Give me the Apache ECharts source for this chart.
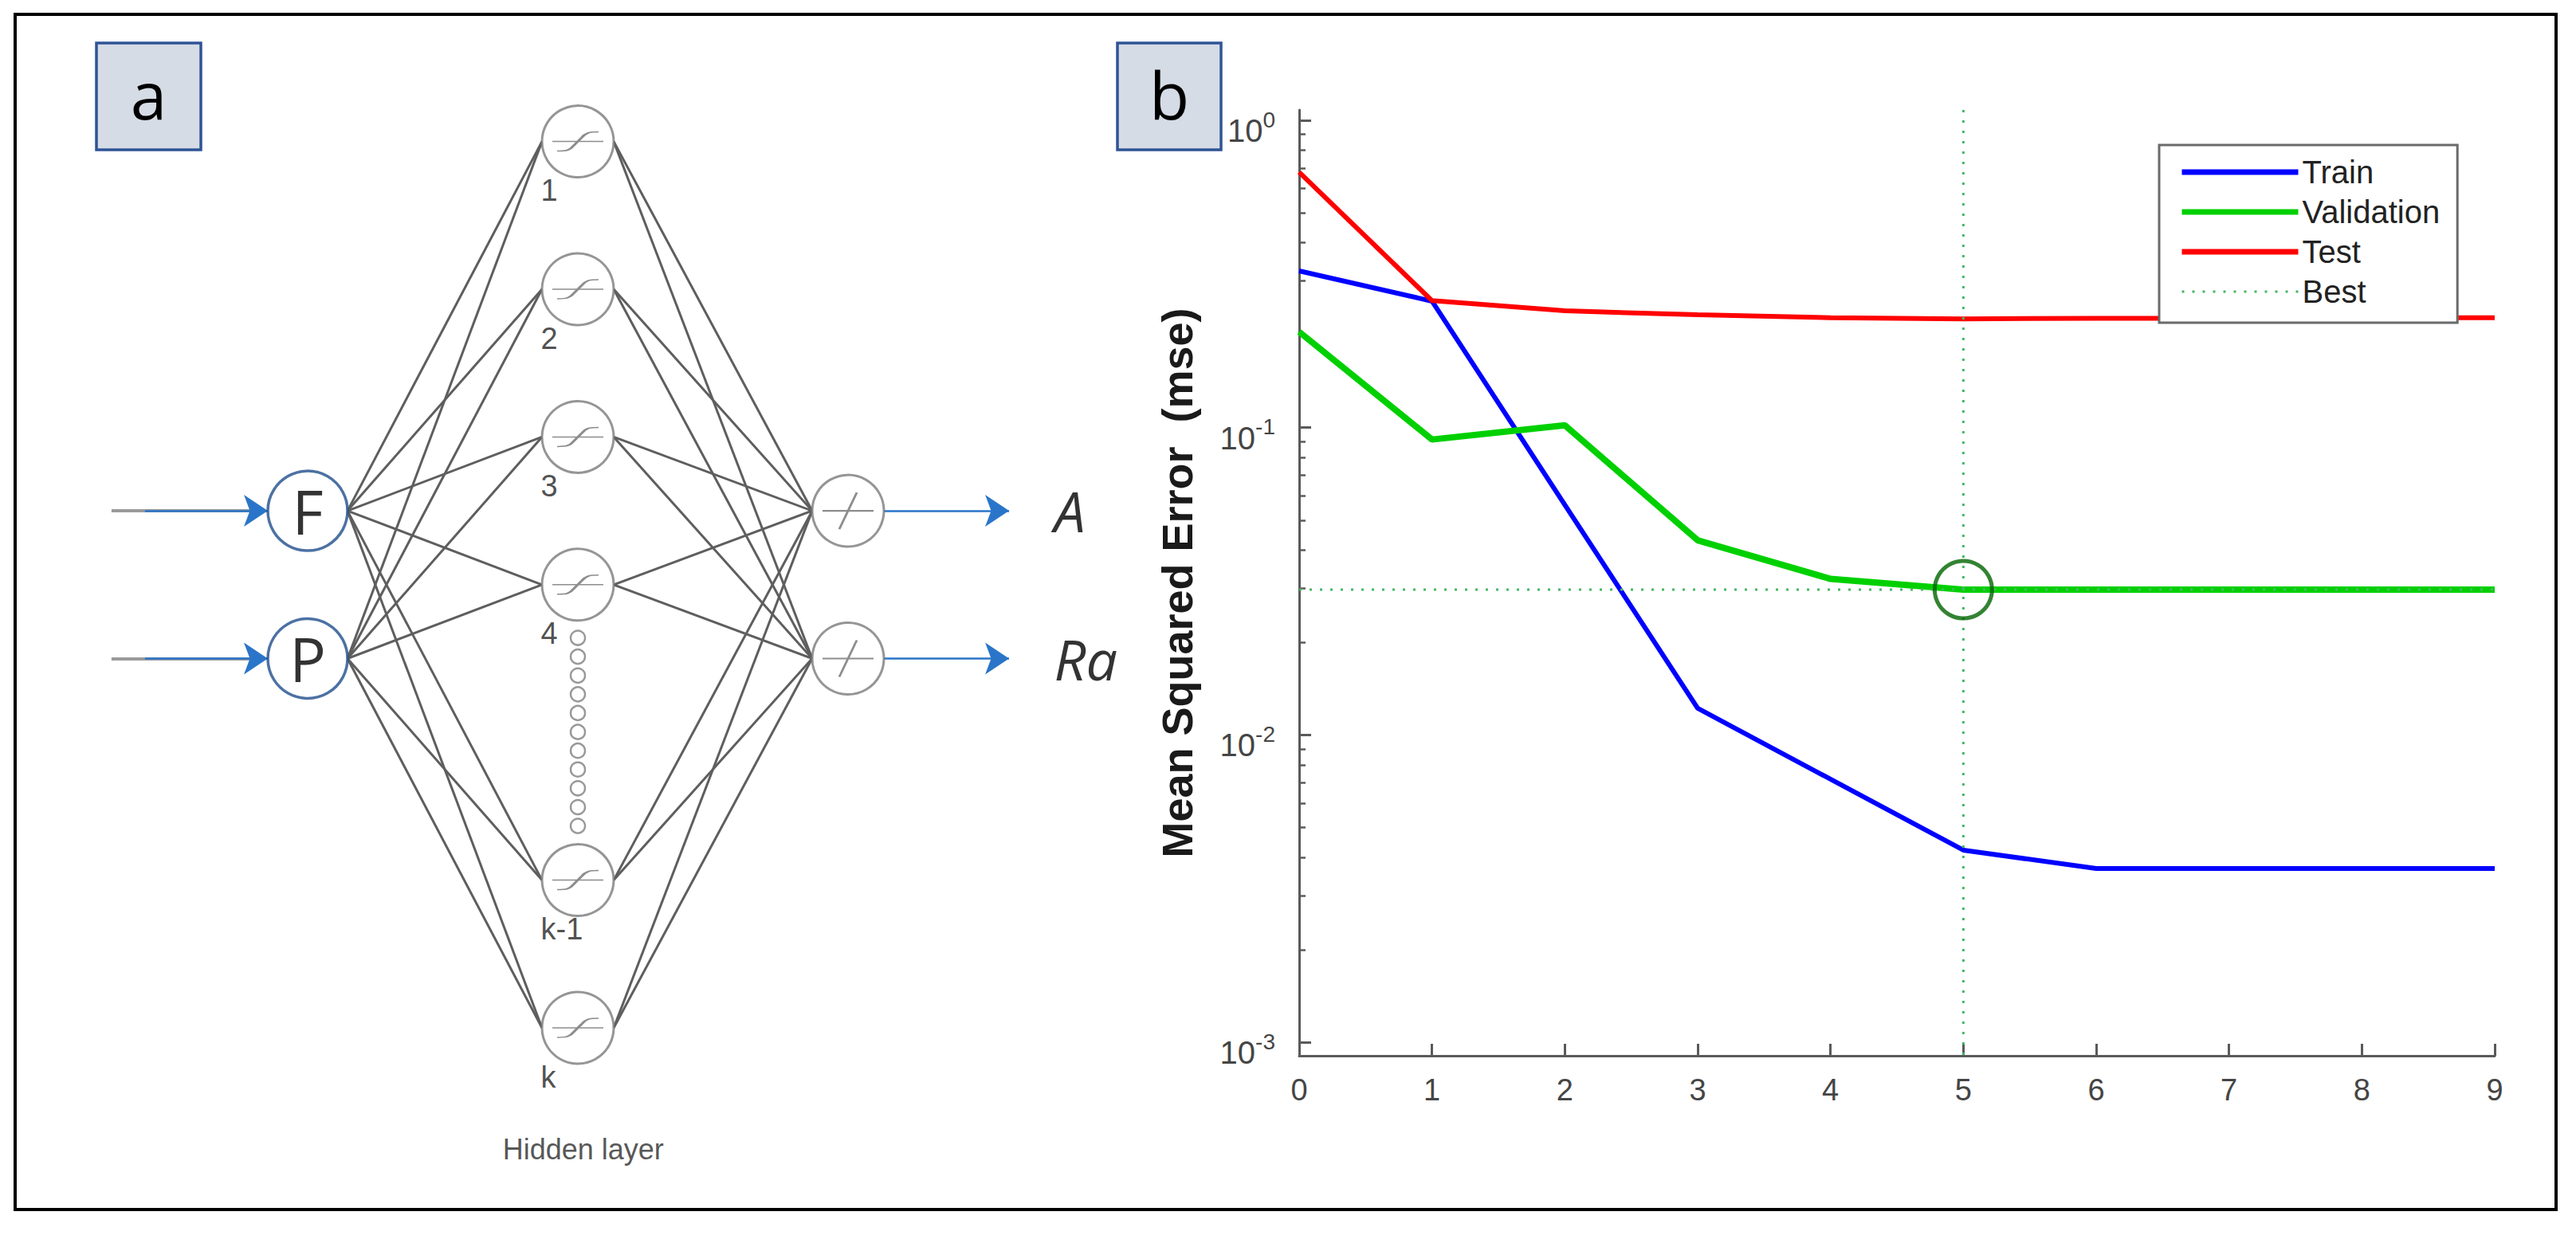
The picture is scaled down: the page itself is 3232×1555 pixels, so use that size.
<!DOCTYPE html>
<html><head><meta charset="utf-8">
<script src="https://cdn.jsdelivr.net/npm/echarts@6/dist/echarts.min.js"></script>
<style>html,body{margin:0;padding:0;background:#fff}#c{width:3232px;height:1555px}</style>
</head><body><div id="c"></div>
<script>
// ---------- panel b data ----------
const epochs = [0, 1, 2, 3, 4, 5, 6, 7, 8, 9];
const trainMse = [0.3236, 0.258, 0.0561, 0.01221, 0.00718, 0.00422, 0.003675, 0.003675, 0.003675, 0.003675];
const validationMse = [0.205, 0.0915, 0.1018, 0.043, 0.0322, 0.0297, 0.0297, 0.0297, 0.0297, 0.0297];
const testMse = [0.678, 0.259, 0.240, 0.233, 0.228, 0.226, 0.227, 0.227, 0.228, 0.228];
const bestEpoch = 5;
const bestMse = 0.0297;
const yMajorTicks = [0.001, 0.01, 0.1, 1];
const yMinorTicks = [0.002,0.003,0.004,0.005,0.006,0.007,0.008,0.009,
                     0.02,0.03,0.04,0.05,0.06,0.07,0.08,0.09,
                     0.2,0.3,0.4,0.5,0.6,0.7,0.8,0.9];
const yRange = [0.000904, 1.081];
const legendNames = ['Train', 'Validation', 'Test', 'Best'];
const yTitle = 'Mean Squared Error  (mse)';

// ---------- panel a data (layer index, row index) ----------
const inputNames = ['F', 'P'];
const inputRows = [2.5, 3.5];
const hiddenLabels = ['1', '2', '3', '4', 'k-1', 'k'];
const hiddenRows = [0, 1, 2, 3, 5, 6];
const outputNames = ['A', 'Ra'];
const outputRows = [2.5, 3.5];
const ellipsisRows = [3.36, 3.487, 3.615, 3.742, 3.869, 3.997, 4.124, 4.251, 4.378, 4.506, 4.633];
const layerTitle = 'Hidden layer';

// ---------- styling / layout ----------
const FONT = 'Liberation Sans, Arial, sans-serif';
const FONT2 = 'Open Sans, Noto Sans, sans-serif';
const AX = '#5a5a5a';
const LBL = '#454545';
const DX = 339;      // px per layer unit in diagram
const rIn = 50, rHid = 45, rOut = 45;

const edges = [];
inputRows.forEach(ri => hiddenRows.forEach(rh => edges.push({coords: [[rIn / DX, ri], [1 - rHid / DX, rh]]})));
hiddenRows.forEach(rh => outputRows.forEach(ro => edges.push({coords: [[1 + rHid / DX, rh], [2 - rOut / DX, ro]]})));
const inGray = inputRows.map(r => ({coords: [[-0.726, r], [-0.2, r]]}));
const inBlue = inputRows.map(r => ({coords: [[-0.602, r], [-rIn / DX, r]]}));
const outBlue = outputRows.map(r => ({coords: [[2 + rOut / DX, r], [2.596, r]]}));

const tansig = 'path://M0,13 L64,13 M6,25 C18,25 22,24 27,18 L37,8 C42,2 46,1 58,1';
const purelin = 'path://M0,23 L64,23 M21,46 L43,0';

const D = {xAxisIndex: 1, yAxisIndex: 2, clip: false, silent: true};
const legendWidths = [7, 7, 7, 3];

const chart = echarts.init(document.getElementById('c'), null, {renderer: 'svg', width: 3232, height: 1555});
chart.setOption({
  animation: false,
  backgroundColor: '#ffffff',
  grid: [
    {left: 1630, top: 138, width: 1500, height: 1187},
    {left: 386, top: 177.6, width: 678, height: 1112.4}
  ],
  xAxis: [
    {type: 'value', gridIndex: 0, min: 0, max: 9, interval: 1,
     axisLine: {onZero: false, lineStyle: {color: AX, width: 3}},
     axisTick: {inside: true, length: 15, lineStyle: {color: AX, width: 3}},
     axisLabel: {fontSize: 38, color: LBL, fontFamily: FONT, margin: 24},
     splitLine: {show: false}},
    {type: 'value', gridIndex: 1, min: 0, max: 2, show: false}
  ],
  yAxis: [
    {type: 'log', gridIndex: 0, min: yRange[0], max: yRange[1], position: 'left',
     name: yTitle, nameLocation: 'middle', nameGap: 126,
     nameTextStyle: {fontSize: 54, fontWeight: 'bold', color: '#1a1a1a', fontFamily: FONT},
     axisLine: {lineStyle: {color: AX, width: 3}},
     axisTick: {inside: true, length: 15, customValues: yMajorTicks, lineStyle: {color: AX, width: 3}},
     axisLabel: {customValues: yMajorTicks, margin: 30, padding: [26, 0, 0, 0],
       formatter: v => '{b|10}{s|' + Math.round(Math.log10(v)) + '}',
       rich: {b: {fontSize: 40, lineHeight: 56, color: LBL, fontFamily: FONT},
              s: {fontSize: 28, lineHeight: 28, verticalAlign: 'top', color: LBL, fontFamily: FONT}}},
     splitLine: {show: false}},
    {type: 'log', gridIndex: 0, min: yRange[0], max: yRange[1], position: 'left',
     axisLine: {show: false},
     axisTick: {inside: true, length: 8, customValues: yMinorTicks, lineStyle: {color: AX, width: 2.5}},
     axisLabel: {show: false, customValues: yMinorTicks},
     splitLine: {show: false}},
    {type: 'value', gridIndex: 1, min: 0, max: 6, inverse: true, show: false}
  ],
  legend: {
    data: legendNames.map((n, i) => ({name: n, lineStyle: {width: legendWidths[i]}})),
    orient: 'vertical', left: 2709, top: 182,
    padding: [14, 22, 19, 25], itemWidth: 146, itemHeight: 20, itemGap: 10,
    backgroundColor: '#ffffff', borderColor: '#6a6a6a', borderWidth: 3,
    lineStyle: {width: 'inherit'},
    itemStyle: {opacity: 0, borderWidth: 0},
    textStyle: {fontSize: 40, color: '#222', fontFamily: FONT},
    selectedMode: false
  },
  graphic: [
    {type: 'rect', shape: {x: 19, y: 18, width: 3188, height: 1500}, style: {fill: 'none', stroke: '#000', lineWidth: 4}},
    {type: 'rect', shape: {x: 121, y: 54, width: 131, height: 134}, style: {fill: '#d6dce5', stroke: '#2f5496', lineWidth: 3.5}},
    {type: 'rect', shape: {x: 1402, y: 54, width: 130, height: 134}, style: {fill: '#d6dce5', stroke: '#2f5496', lineWidth: 3.5}},
    {type: 'text', style: {text: 'a', x: 186.5, y: 118, fill: '#000', fontSize: 82, fontFamily: FONT2,
      align: 'center', verticalAlign: 'middle', textAlign: 'center', textVerticalAlign: 'middle'}},
    {type: 'text', style: {text: 'b', x: 1467, y: 118, fill: '#000', fontSize: 82, fontFamily: FONT2,
      align: 'center', verticalAlign: 'middle', textAlign: 'center', textVerticalAlign: 'middle'}}
  ],
  series: [
    // ---------- panel a ----------
    Object.assign({type: 'lines', coordinateSystem: 'cartesian2d', data: edges,
      lineStyle: {color: '#5e5e5e', width: 3, opacity: 1}, symbol: ['none', 'none'], z: 2}, D),
    Object.assign({type: 'lines', coordinateSystem: 'cartesian2d', data: inGray,
      lineStyle: {color: '#9a9a9a', width: 4, opacity: 1}, symbol: ['none', 'none'], z: 2}, D),
    Object.assign({type: 'lines', coordinateSystem: 'cartesian2d', data: inBlue.concat(outBlue),
      lineStyle: {color: '#2a75c9', width: 2.5, opacity: 1}, symbol: ['none', 'arrow'], symbolSize: 30, z: 3}, D),
    Object.assign({type: 'scatter', name: 'inputs', symbol: 'circle', symbolSize: 2 * rIn,
      data: inputNames.map((n, i) => ({name: n, value: [0, inputRows[i]]})),
      itemStyle: {color: '#fff', borderColor: '#1f4e8c', borderWidth: 3.5},
      label: {show: true, position: 'inside', formatter: '{b}', fontSize: 76, fontFamily: FONT2, color: '#000'}, z: 4}, D),
    Object.assign({type: 'scatter', name: 'hidden', symbol: 'circle', symbolSize: 2 * rHid,
      data: hiddenLabels.map((n, i) => ({name: n, value: [1, hiddenRows[i]]})),
      itemStyle: {color: '#fff', borderColor: '#7a7a7a', borderWidth: 3},
      label: {show: true, position: [0, 108], align: 'left', verticalAlign: 'middle', formatter: '{b}',
        fontSize: 38, fontFamily: FONT, color: '#222'}, z: 4}, D),
    Object.assign({type: 'scatter', name: 'hiddenGlyph', symbol: tansig, symbolSize: [64, 24],
      data: hiddenRows.map(r => [1, r]),
      itemStyle: {color: 'rgba(0,0,0,0)', borderColor: '#707070', borderWidth: 2.5}, z: 5}, D),
    Object.assign({type: 'scatter', name: 'ellipsis', symbol: 'circle', symbolSize: 18,
      data: ellipsisRows.map(r => [1, r]),
      itemStyle: {color: '#fff', borderColor: '#808080', borderWidth: 2.5}, z: 4}, D),
    Object.assign({type: 'scatter', name: 'outputs', symbol: 'circle', symbolSize: 2 * rOut,
      data: outputRows.map(r => [2, r]),
      itemStyle: {color: '#fff', borderColor: '#7a7a7a', borderWidth: 3}, z: 4}, D),
    Object.assign({type: 'scatter', name: 'outputGlyph', symbol: purelin, symbolSize: [64, 46],
      data: outputRows.map(r => [2, r]),
      itemStyle: {color: 'rgba(0,0,0,0)', borderColor: '#707070', borderWidth: 2.5}, z: 5}, D),
    Object.assign({type: 'scatter', name: 'outputNames', symbolSize: 1,
      data: outputNames.map((n, i) => ({name: n, value: [2.761, outputRows[i]]})),
      itemStyle: {color: 'rgba(0,0,0,0)'},
      label: {show: true, position: 'right', distance: 0, formatter: '{b}', fontSize: 70, fontStyle: 'italic',
        fontFamily: FONT2, color: '#000'}, z: 4}, D),
    Object.assign({type: 'scatter', name: 'layerTitle', symbolSize: 1,
      data: [{name: layerTitle, value: [1.02, 6.825]}],
      itemStyle: {color: 'rgba(0,0,0,0)'},
      label: {show: true, position: 'inside', formatter: '{b}', fontSize: 36, fontFamily: FONT, color: '#2a2a2a'}, z: 4}, D),

    // ---------- panel b ----------
    {name: 'Train', type: 'line', xAxisIndex: 0, yAxisIndex: 0, symbol: 'none',
     data: epochs.map((e, i) => [e, trainMse[i]]),
     lineStyle: {color: '#0000ff', width: 6}, itemStyle: {color: '#0000ff'}, z: 3},
    {name: 'Validation', type: 'line', xAxisIndex: 0, yAxisIndex: 0, symbol: 'none',
     data: epochs.map((e, i) => [e, validationMse[i]]),
     lineStyle: {color: '#00d000', width: 8}, itemStyle: {color: '#00d000'}, z: 3},
    {name: 'Test', type: 'line', xAxisIndex: 0, yAxisIndex: 0, symbol: 'none',
     data: epochs.map((e, i) => [e, testMse[i]]),
     lineStyle: {color: '#ff0000', width: 6}, itemStyle: {color: '#ff0000'}, z: 3},
    {name: 'Best', type: 'line', xAxisIndex: 0, yAxisIndex: 0, symbol: 'none',
     data: [[bestEpoch, yRange[1]], [bestEpoch, yRange[0]]],
     lineStyle: {color: '#44b864', width: 3, type: [3, 10]}, itemStyle: {color: '#44b864'}, z: 4},
    {name: 'Best', type: 'line', xAxisIndex: 0, yAxisIndex: 0, symbol: 'none',
     data: [[epochs[0], bestMse], [epochs[epochs.length - 1], bestMse]],
     lineStyle: {color: '#44b864', width: 3, type: [3, 10]}, itemStyle: {color: '#44b864'}, z: 4},
    {name: 'bestPoint', type: 'scatter', xAxisIndex: 0, yAxisIndex: 0, symbol: 'circle', symbolSize: 72,
     data: [[bestEpoch, bestMse]],
     itemStyle: {color: 'rgba(0,0,0,0)', borderColor: '#006400', borderWidth: 5}, z: 5}
  ]
});
</script></body></html>
